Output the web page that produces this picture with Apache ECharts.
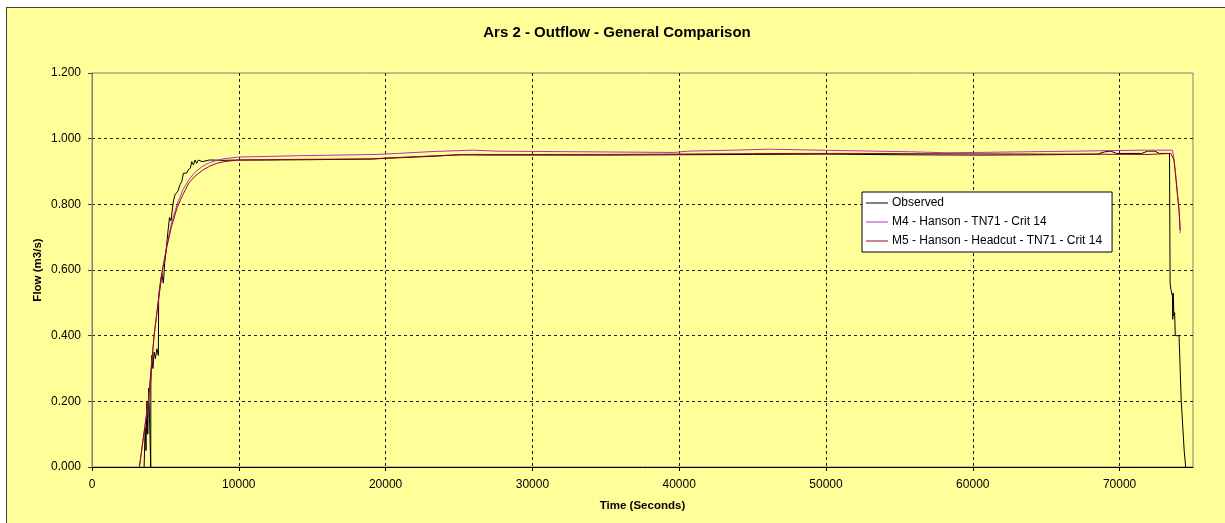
<!DOCTYPE html>
<html>
<head>
<meta charset="utf-8">
<title>Ars 2 - Outflow - General Comparison</title>
<script src="https://cdn.jsdelivr.net/npm/echarts@6/dist/echarts.min.js"></script>
<style>
  html, body { margin: 0; padding: 0; background: #ffffff; }
  #frame {
    position: absolute; left: 6px; top: 7px; width: 1230px; height: 530px;
    background: #ffff99; border-left: 1px solid #404040; border-top: 1px solid #404040;
  }
  #chart { position: absolute; left: 0; top: 0; width: 1225px; height: 523px; }
</style>
</head>
<body>
<div id="frame"></div>
<div id="chart"></div>
<script>
// Time (s) / flow (m3/s) pairs for each series
const observed = [
  [3550, 0.000], [3620, 0.120], [3680, 0.050], [3740, 0.200], [3800, 0.100],
  [3860, 0.240], [3920, 0.150], [4000, 0.000], [4010, 0.250], [4070, 0.340],
  [4150, 0.300], [4230, 0.350], [4320, 0.330], [4420, 0.360], [4520, 0.340],
  [4540, 0.520], [4650, 0.560], [4750, 0.590], [4860, 0.560], [4950, 0.620],
  [5050, 0.660], [5180, 0.720], [5280, 0.760], [5380, 0.750], [5545, 0.810],
  [5660, 0.830], [5850, 0.840], [6000, 0.860], [6120, 0.870], [6225, 0.895],
  [6450, 0.895], [6550, 0.905], [6700, 0.910], [6795, 0.930], [6910, 0.920],
  [7020, 0.935], [7130, 0.925], [7250, 0.935], [7500, 0.930], [8000, 0.935],
  [9000, 0.934], [10000, 0.935], [12000, 0.935], [15000, 0.936], [17000, 0.937],
  [19000, 0.938], [20500, 0.941], [22000, 0.944], [23500, 0.947], [25000, 0.951],
  [27000, 0.950], [30000, 0.950], [35000, 0.950], [40000, 0.951], [45000, 0.952],
  [50000, 0.953], [55000, 0.951], [60000, 0.950], [65000, 0.951], [68500, 0.953],
  [69000, 0.960], [69400, 0.962], [69800, 0.955], [71500, 0.955], [71900, 0.962],
  [72400, 0.962], [72700, 0.955], [73400, 0.955], [73440, 0.560], [73500, 0.540],
  [73600, 0.520], [73620, 0.450], [73650, 0.530], [73700, 0.460], [73750, 0.470],
  [73790, 0.400], [74050, 0.400], [74200, 0.200], [74400, 0.050], [74500, 0.000]
];

const m4Hanson = [
  [3230, 0.000], [3500, 0.090], [3840, 0.200], [4230, 0.400], [4500, 0.500],
  [4800, 0.600], [5100, 0.675], [5400, 0.740], [5800, 0.800], [6200, 0.845],
  [6600, 0.875], [7000, 0.897], [7500, 0.915], [8000, 0.927], [8500, 0.934],
  [9000, 0.939], [10000, 0.944], [12000, 0.946], [14000, 0.948], [19400, 0.952],
  [20800, 0.955], [22000, 0.958], [23300, 0.961], [26000, 0.965], [27600, 0.962],
  [39600, 0.958], [40600, 0.962], [43700, 0.965], [46100, 0.968], [48300, 0.966],
  [53300, 0.962], [55800, 0.960], [58300, 0.957], [65300, 0.961], [71700, 0.965],
  [73600, 0.965], [73700, 0.940], [73800, 0.900], [73950, 0.830], [74050, 0.785],
  [74130, 0.712]
];

const m5Headcut = [
  [3230, 0.000], [3500, 0.090], [3840, 0.200], [4230, 0.400], [4500, 0.500],
  [4800, 0.600], [5100, 0.670], [5400, 0.730], [5800, 0.790], [6200, 0.830],
  [6600, 0.865], [7000, 0.885], [7500, 0.903], [8000, 0.916], [8500, 0.925],
  [9000, 0.930], [10000, 0.935], [14000, 0.937], [19000, 0.938], [20000, 0.941],
  [21500, 0.944], [23000, 0.947], [24500, 0.950], [26000, 0.952], [35000, 0.952],
  [48000, 0.955], [52500, 0.955], [52600, 0.952], [72000, 0.952], [73500, 0.955],
  [73600, 0.955], [73700, 0.935], [73800, 0.895], [73950, 0.823], [74050, 0.783],
  [74130, 0.722]
];

const seriesNames = [
  'Observed',
  'M4 - Hanson - TN71 - Crit 14',
  'M5 - Hanson - Headcut - TN71 - Crit 14'
];

const chart = echarts.init(document.getElementById('chart'), null, { renderer: 'canvas' });

const font = 'Arial, "Liberation Sans", sans-serif';
const gridDash = { color: '#202020', width: 1, type: [3, 3] };

function lineSeries(name, data, color) {
  return {
    name: name,
    type: 'line',
    data: data,
    symbol: 'none',
    showSymbol: false,
    lineStyle: { color: color, width: 1 },
    itemStyle: { color: color },
    emphasis: { disabled: true },
    animation: false
  };
}

chart.setOption({
  backgroundColor: 'transparent',
  animation: false,
  title: {
    text: 'Ars 2 - Outflow - General Comparison',
    left: 617,
    top: 25,
    textAlign: 'center',
    padding: 0,
    textStyle: { fontFamily: font, fontSize: 15, fontWeight: 'bold', color: '#000000' }
  },
  grid: {
    left: 92, right: 32, top: 73, bottom: 56,
    show: true,
    backgroundColor: '#ffff99',
    borderColor: '#808080',
    borderWidth: 1
  },
  legend: {
    orient: 'vertical',
    left: 862,
    top: 192,
    backgroundColor: '#ffffff',
    borderColor: '#000000',
    borderWidth: 1,
    borderRadius: 0,
    padding: [5, 10, 5, 4],
    itemGap: 7,
    itemWidth: 22,
    itemHeight: 12,
    icon: 'path://M0,6 L22,6 L22,7 L0,7 Z',
    textStyle: { fontFamily: font, fontSize: 12, color: '#000000', padding: [0, 0, 0, -1] },
    data: seriesNames
  },
  xAxis: {
    type: 'value',
    min: 0,
    max: 75000,
    interval: 10000,
    name: 'Time (Seconds)',
    nameLocation: 'middle',
    nameGap: 33,
    nameMoveOverlap: false,
    nameTextStyle: { fontFamily: font, fontSize: 11.5, fontWeight: 'bold', color: '#000000' },
    axisLine: { show: true, onZero: false, lineStyle: { color: '#000000', width: 1 } },
    axisTick: { show: true, inside: false, length: 4, lineStyle: { color: '#000000' } },
    axisLabel: {
      fontFamily: font, fontSize: 12, color: '#000000', margin: 12,
      showMaxLabel: false,
      formatter: function (v) { return String(v); }
    },
    splitLine: { show: true, showMinLine: false, showMaxLine: false, lineStyle: gridDash }
  },
  yAxis: {
    type: 'value',
    min: 0,
    max: 1.2,
    interval: 0.2,
    name: 'Flow (m3/s)',
    nameLocation: 'middle',
    nameGap: 48,
    nameMoveOverlap: false,
    nameTextStyle: { fontFamily: font, fontSize: 11.5, fontWeight: 'bold', color: '#000000' },
    axisLine: { show: true, lineStyle: { color: '#808080', width: 1 } },
    axisTick: { show: true, inside: false, length: 4, lineStyle: { color: '#404040' } },
    axisLabel: {
      fontFamily: font, fontSize: 12, color: '#000000', margin: 11,
      formatter: function (v) { return v.toFixed(3); }
    },
    splitLine: { show: true, showMinLine: false, showMaxLine: false, lineStyle: gridDash }
  },
  series: [
    lineSeries(seriesNames[0], observed, '#000000'),
    lineSeries(seriesNames[1], m4Hanson, '#b030c0'),
    lineSeries(seriesNames[2], m5Headcut, '#a00020')
  ]
});
</script>
</body>
</html>
